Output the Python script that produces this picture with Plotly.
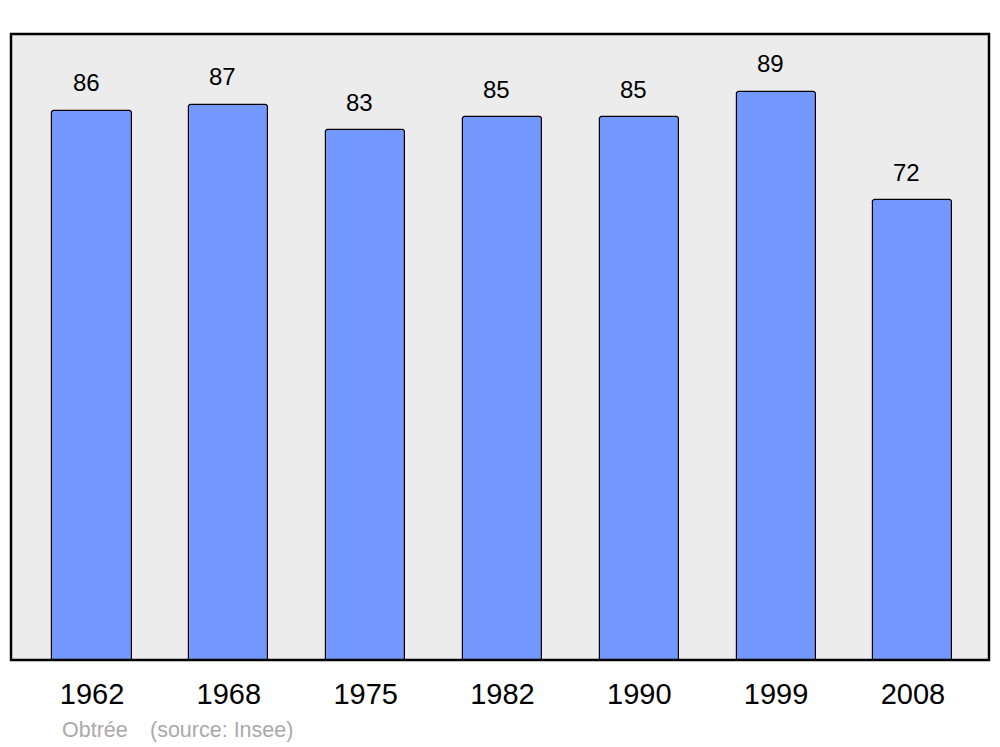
import plotly.graph_objects as go

# ---------------------------------------------------------------------------
# Data
# ---------------------------------------------------------------------------
years = ["1962", "1968", "1975", "1982", "1990", "1999", "2008"]
population = [86, 87, 83, 85, 85, 89, 72]

BAR_BLUE = "#7399ff"
PANEL_GREY = "#ececec"
FONT = "Liberation Sans, Arial, sans-serif"

fig = go.Figure()
fig.add_trace(go.Bar(
    x=years,
    y=population,
    width=0.578,
    marker=dict(color=BAR_BLUE, line=dict(color="black", width=1.2), cornerradius=3),
    hoverinfo="skip",
))

# value labels above the bars (category index positions)
for i, val in enumerate(population):
    fig.add_annotation(
        x=i, y=val, text=str(val), showarrow=False,
        yanchor="middle", yshift=28, xshift=-6,
        font=dict(family=FONT, size=24, color="black"),
    )

# footer: commune name + source
for xpos, label in [(0.0521, "Obtrée"), (0.1421, "(source: Insee)")]:
    fig.add_annotation(
        xref="paper", yref="paper", x=xpos, y=-0.112,
        xanchor="left", yanchor="middle", showarrow=False, xshift=-2,
        text=label,
        font=dict(family=FONT, size=21.5, color="#aaaaaa"),
    )

# panel background with border
fig.add_shape(
    type="rect", xref="paper", yref="paper", x0=0, y0=0, x1=1, y1=1,
    line=dict(color="black", width=2.5), fillcolor=PANEL_GREY, layer="below",
)

fig.update_layout(
    width=1000, height=747,
    paper_bgcolor="white",
    plot_bgcolor=PANEL_GREY,
    showlegend=False,
    bargap=0,
    margin=dict(l=11, r=11, t=34, b=87),
    xaxis=dict(
        type="category", range=[-0.592, 6.556],
        showgrid=False, zeroline=False, showline=False, ticks="",
        tickfont=dict(family=FONT, size=29, color="black"),
        ticklabelstandoff=14,
    ),
    yaxis=dict(
        range=[0, 98.06], visible=False, showgrid=False, zeroline=False,
    ),
)

fig.write_html(
    "out.html",
    config={"displayModeBar": False},
    post_script="document.body.style.margin='0';",
)
